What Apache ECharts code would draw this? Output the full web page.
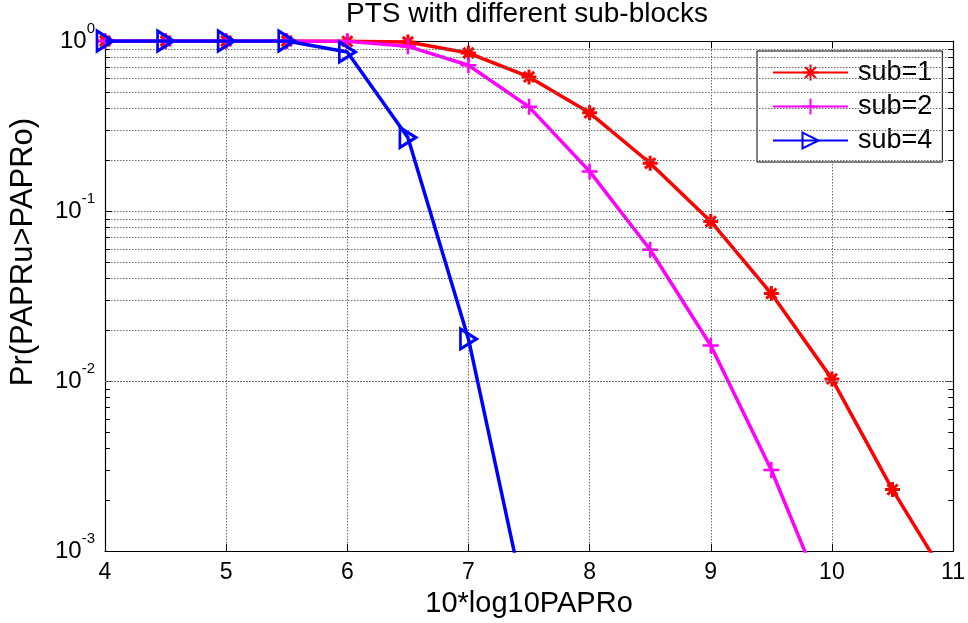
<!DOCTYPE html>
<html>
<head>
<meta charset="utf-8">
<script src="https://cdn.jsdelivr.net/npm/echarts@6/dist/echarts.min.js"></script>
<style>
  html, body { margin: 0; padding: 0; background: #fff; }
  #chart { width: 968px; height: 623px; }
</style>
</head>
<body>
<div id="chart"></div>
<script>
// 10*log10(PAPR0) in dB
const papr = [4, 4.5, 5, 5.5, 6, 6.5, 7, 7.5, 8, 8.5, 9, 9.5, 10, 10.5, 11]
// CCDF per sub-block count (last points fall below 1e-3 and get clipped)
const sub1 = [1, 1, 1, 1, 0.995, 0.987, 0.85, 0.615, 0.378, 0.191, 0.0868, 0.0327, 0.0103, 0.0023, 0.0006]
const sub2 = [1, 1, 1, 1, 0.995, 0.93, 0.72, 0.41, 0.171, 0.0592, 0.0162, 0.0030, 0.00041]
const sub4 = [1, 1, 1, 1, 0.862, 0.271, 0.0177, 0.00039]
const xTicks = [4, 5, 6, 7, 8, 9, 10, 11]
const yDecades = [0.001, 0.01, 0.1, 1]

const FONT = 'Liberation Sans'
const pairs = (ys) => ys.map((y, i) => [papr[i], y])

// minor log grid 2..9 x 10^k
const minor = []
for (let k = -3; k < 0; k++) for (let m = 2; m <= 9; m++) minor.push(+(m * Math.pow(10, k)).toPrecision(3))

const gridDots = { color: '#6a6a6a', type: [1.5, 1.5], width: 1 }
const tickLen = 0.04
const tickStyle = { color: '#000', width: 1, type: 'solid' }
const minorMarks = minor.map(v => ({ yAxis: v, lineStyle: gridDots }))
const minorTicks = []
minor.forEach(v => {
  minorTicks.push([{ coord: [4, v], lineStyle: tickStyle }, { coord: [4 + tickLen, v] }])
  minorTicks.push([{ coord: [11 - tickLen, v], lineStyle: tickStyle }, { coord: [11, v] }])
})

const asterisk = 'path://M0,5L10,5M5,0L5,10M1.6,1.6L8.4,8.4M8.4,1.6L1.6,8.4'
const plus = 'path://M0,5L10,5M5,0L5,10'

const chart = echarts.init(document.getElementById('chart'))

const axisBase = {
  axisLine: { show: true, lineStyle: { color: '#000', width: 1.2 } },
  axisTick: { show: true, inside: true, length: 7, lineStyle: { color: '#000' } },
}

chart.setOption({
  animation: false,
  backgroundColor: '#fff',
  textStyle: { fontFamily: FONT },
  title: {
    text: 'PTS with different sub-blocks',
    left: 527, top: 0, padding: 0, textAlign: 'center',
    textStyle: { fontFamily: FONT, fontSize: 28, fontWeight: 'normal', color: '#000' },
  },
  grid: { left: 100, right: 12, top: 41, bottom: 71 },
  legend: {
    data: ['sub=1', 'sub=2', 'sub=4'],
    orient: 'vertical',
    left: 757, top: 51,
    padding: [8, 10, 8, 15],
    itemWidth: 75, itemHeight: 20, itemGap: 7,
    borderColor: '#000', borderWidth: 1, backgroundColor: '#fff',
    textStyle: { fontFamily: FONT, fontSize: 27, color: '#000', padding: [0, 0, 0, 5] },
  },
  xAxis: [
    {
      ...axisBase, type: 'value', min: 4, max: 11, interval: 1,
      name: '10*log10PAPRo', nameLocation: 'middle', nameGap: 35,
      nameTextStyle: { fontFamily: FONT, fontSize: 29, color: '#000' },
      axisLabel: { fontFamily: FONT, fontSize: 23, color: '#000', margin: 10 },
      splitLine: { show: true, lineStyle: gridDots },
    },
    {
      ...axisBase, type: 'value', min: 4, max: 11, interval: 1, position: 'top',
      axisLabel: { show: false }, splitLine: { show: false },
    },
  ],
  yAxis: [
    {
      ...axisBase, type: 'log', logBase: 10, min: 0.001, max: 1,
      name: 'Pr(PAPRu>PAPRo)', nameLocation: 'middle', nameGap: 66,
      nameTextStyle: { fontFamily: FONT, fontSize: 31, color: '#000', padding: [0, 0, 0, 88] },
      axisLabel: {
        margin: 10,
        formatter: v => '{n|10}{s|' + Math.round(Math.log10(v)) + '}',
        rich: {
          n: { fontFamily: FONT, fontSize: 24, lineHeight: 40, color: '#000' },
          s: { fontFamily: FONT, fontSize: 15, lineHeight: 15, verticalAlign: 'top', color: '#000' },
        },
      },
      splitLine: { show: true, lineStyle: gridDots },
    },
    {
      ...axisBase, type: 'log', logBase: 10, min: 0.001, max: 1, position: 'right',
      axisLabel: { show: false }, splitLine: { show: false },
    },
  ],
  series: [
    {
      name: 'grid', type: 'line', data: [], silent: true, z: 1,
      markLine: {
        silent: true, symbol: ['none', 'none'], label: { show: false },
        animation: false,
        data: [...minorMarks, ...minorTicks],
      },
    },
    {
      name: 'sub=1', type: 'line', data: pairs(sub1), z: 3,
      color: '#ff0000',
      lineStyle: { color: '#ff0000', width: 3.5 },
      symbol: asterisk, symbolSize: 15, showAllSymbol: true,
      itemStyle: { color: '#ff0000', borderColor: '#ff0000', borderWidth: 3 },
    },
    {
      name: 'sub=2', type: 'line', data: pairs(sub2), z: 4,
      color: '#ff00ff',
      lineStyle: { color: '#ff00ff', width: 3.5 },
      symbol: plus, symbolSize: 16, showAllSymbol: true,
      itemStyle: { color: '#ff00ff', borderColor: '#ff00ff', borderWidth: 2.5 },
    },
    {
      name: 'sub=4', type: 'line', data: pairs(sub4), z: 5,
      color: '#0000ff',
      lineStyle: { color: '#0000ff', width: 3.5 },
      symbol: 'triangle', symbolSize: [20, 16], symbolRotate: -90, showAllSymbol: true,
      itemStyle: { color: 'rgba(0,0,0,0)', borderColor: '#0000ff', borderWidth: 3 },
    },
  ],
})
</script>
</body>
</html>
